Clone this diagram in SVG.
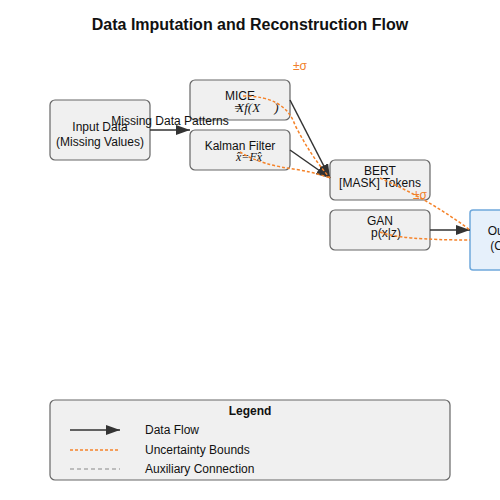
<svg xmlns="http://www.w3.org/2000/svg" width="500" height="500" viewBox="0 0 500 500">
<defs>
<marker id="arrL" viewBox="0 0 14 10" markerWidth="14" markerHeight="10" refX="14" refY="5" orient="auto" markerUnits="userSpaceOnUse">
<path d="M0,0 L14,5 L0,10 Z" fill="#333"/>
</marker>
<style>
text{font-family:"Liberation Sans",Arial,sans-serif;font-size:12px;fill:#111;text-anchor:middle}
.box{fill:#f0f0f0;stroke:#666;stroke-width:1.2}
.out{fill:#e6f0fb;stroke:#6fa8dc;stroke-width:1.5}
.flow{stroke:#333;stroke-width:1.5;fill:none}
.unc{stroke:#f5832a;stroke-width:1.5;stroke-dasharray:3,2;fill:none}
.aux{stroke:#aaa;stroke-width:1.5;stroke-dasharray:4,3;fill:none}
.math{font-family:"Liberation Serif","DejaVu Serif",serif;font-style:italic}
.sig{fill:#f07f2a}
</style>
</defs>
<rect width="500" height="500" fill="#fff"/>
<text x="250" y="30" style="font-size:16px;font-weight:bold">Data Imputation and Reconstruction Flow</text>

<g id="input">
<rect class="box" x="50" y="100" width="100" height="60" rx="5"/>
<text x="100" y="131">Input Data</text>
<text x="100" y="146">(Missing Values)</text>
</g>
<g id="mice">
<rect class="box" x="190" y="80" width="100" height="40" rx="5"/>
<text x="240" y="100">MICE</text>
<text class="math" x="256" y="112" style="font-size:13px">=<tspan dx="-6">X</tspan>f(X<tspan dx="14">)</tspan></text>
</g>
<g id="kalman">
<rect class="box" x="190" y="130" width="100" height="40" rx="5"/>
<text x="240" y="150">Kalman Filter</text>
<text class="math" x="249" y="161" style="font-size:12px">x̂=Fx̂</text>
</g>
<g id="bert">
<rect class="box" x="330" y="160" width="100" height="40" rx="5"/>
<text x="380" y="175">BERT</text>
<text x="380" y="187">[MASK] Tokens</text>
</g>
<g id="gan">
<rect class="box" x="330" y="210" width="100" height="40" rx="5"/>
<text x="380" y="225">GAN</text>
<text x="386" y="237">p(x|z)</text>
</g>
<g id="output">
<rect class="out" x="470" y="210" width="100" height="60" rx="3"/>
<text x="520" y="235">Output Data</text>
<text x="520" y="250">(Complete)</text>
</g>

<g id="connectors">
<line class="flow" x1="150" y1="130" x2="190" y2="130" marker-end="url(#arrL)"/>
<text x="170" y="125">Missing Data Patterns</text>
<line class="flow" x1="290" y1="100" x2="330" y2="178" marker-end="url(#arrL)"/>
<line class="flow" x1="290" y1="150" x2="330" y2="178" marker-end="url(#arrL)"/>
<line class="flow" x1="430" y1="230" x2="470" y2="230" marker-end="url(#arrL)"/>
<path class="unc" d="M243,96 Q285,96 295,125 Q310,155 330,178"/>
<path class="unc" d="M240,152 Q260,165 300,170 Q320,174 330,178"/>
<path class="unc" d="M380,178 Q430,200 470,230"/>
<path class="unc" d="M380,232 Q400,240 470,240"/>
<text class="sig" x="300" y="70">±σ</text>
<text class="sig" x="420" y="199">±σ</text>
</g>

<g id="legend">
<rect class="box" x="50" y="400" width="400" height="80" rx="5"/>
<text x="250" y="415" style="font-weight:bold">Legend</text>
<line class="flow" x1="70" y1="430" x2="120" y2="430" marker-end="url(#arrL)"/>
<text x="145" y="434" style="text-anchor:start">Data Flow</text>
<line class="unc" x1="70" y1="450" x2="120" y2="450"/>
<text x="145" y="454" style="text-anchor:start">Uncertainty Bounds</text>
<line class="aux" x1="70" y1="469" x2="120" y2="469"/>
<text x="145" y="473" style="text-anchor:start">Auxiliary Connection</text>
</g>
</svg>
